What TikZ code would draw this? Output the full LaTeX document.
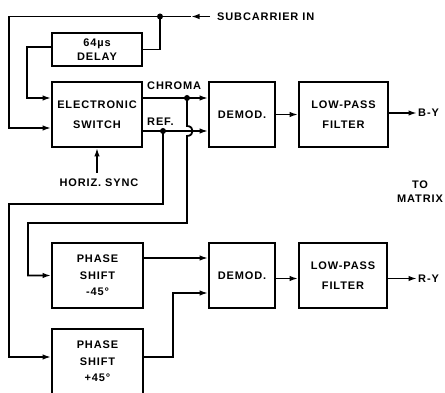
\documentclass[tikz,border=0pt]{standalone}
\usepackage{fontspec}
\setmainfont[LetterSpace=8]{Liberation Sans}
\usetikzlibrary{arrows.meta}
\tikzset{
  lbl/.style={font=\bfseries\fontsize{11}{13.5}\selectfont, inner sep=1pt, align=center},
  blk/.style={lbl, draw, rectangle, line width=1.8pt, inner sep=0pt},
  wire/.style={line width=1.8pt},
  arr/.style={wire, -{Latex[length=8.5pt,width=5.5pt]}},
  dot/.style={fill=black}
}
\begin{document}
\begin{tikzpicture}[x=1pt,y=-1pt]
\useasboundingbox (0,0) rectangle (445,393);
\clip (0,0) rectangle (445,393);
% blocks
\node[blk, minimum width=90pt, minimum height=33pt] (delay) at (97,49.5) {64µs\\DELAY};
\node[blk, minimum width=90pt, minimum height=65pt] (switch) at (97,114.5) {ELECTRONIC\\[7pt]SWITCH};
\node[blk, minimum width=66pt, minimum height=65pt] (demodA) at (242,114.5) {DEMOD.};
\node[blk, minimum width=89pt, minimum height=65pt] (lpfA) at (343.5,114.5) {LOW-PASS\\[7pt]FILTER};
\node[blk, minimum width=91pt, minimum height=65pt] (psA) at (97.5,275.5) {PHASE\\[3pt]SHIFT\\[3pt]-45°};
\node[blk, minimum width=91pt, minimum height=65pt] (psB) at (97.5,361.5) {PHASE\\[3pt]SHIFT\\[3pt]+45°};
\node[blk, minimum width=66pt, minimum height=65pt] (demodB) at (242,275.5) {DEMOD.};
\node[blk, minimum width=88pt, minimum height=65pt] (lpfB) at (343,275.5) {LOW-PASS\\[7pt]FILTER};
% labels
\node[lbl, anchor=west] (subin) at (216,16.5) {SUBCARRIER IN};
\node[lbl, anchor=west] (chroma) at (146,86) {CHROMA};
\node[lbl, anchor=west] (ref) at (146,121.5) {REF.};
\node[lbl] (hsync) at (99,183) {HORIZ. SYNC};
\node[lbl, anchor=west, inner sep=1pt] (by) at (417,113) {B-Y};
\node[lbl, anchor=west, inner sep=1pt] (ry) at (417,278.5) {R-Y};
\node[lbl] (tomatrix) at (420,191.5) {TO\\MATRIX};
% junction coordinates
\coordinate (dsub) at (160,16.5);
\coordinate (subtip) at (191,16.5);
\coordinate (dch) at (187,98);
\coordinate (dref) at (163,131);
% subcarrier input
\draw[arr] ([xshift=-6pt]subin.west) -- (subtip);
\draw[wire] (subtip) -- (dsub);
\draw[arr] (dsub) -- (9,16.5) |- ([yshift=-13.5pt]switch.west);
\draw[wire] (dsub) |- (delay.east);
\draw[arr] ([yshift=2.5pt]delay.west) -- (27,47) |- ([yshift=16.5pt]switch.west);
% horiz sync
\draw[arr] (97,173) -- (switch.south);
% switch outputs
\draw[arr] ([yshift=16.5pt]switch.east) -- ([yshift=16.5pt]demodA.west);
\draw[arr] ([yshift=-16.5pt]switch.east) -- ([yshift=-16.5pt]demodA.west);
\draw[arr] (demodA.east) -- (lpfA.west);
\draw[arr] ([yshift=1.5pt]lpfA.east) -- (by.west);
% chroma to phase shift -45 (hops over REF)
\draw[arr] (dch) -- (187,126) .. controls (194.5,126) and (194.5,136) .. (187,136) -- (187,223) -- (28,223) |- (psA.west);
% ref to phase shift +45
\draw[arr] (dref) -- (163,204) -- (9,204) |- ([yshift=4.5pt]psB.west);
% lower chain
\draw[arr] ([yshift=17.5pt]psA.east) -- ([yshift=17.5pt]demodB.west);
\draw[arr] ([yshift=4.5pt]psB.east) -- (173,357) |- ([yshift=-17.5pt]demodB.west);
\draw[arr] ([yshift=-3pt]demodB.east) -- ([yshift=-3pt]lpfB.west);
\draw[arr] ([yshift=-3pt]lpfB.east) -- (ry.west);
% dots
\fill[dot] (dsub) circle[radius=3pt];
\fill[dot] (dch) circle[radius=3pt];
\fill[dot] (dref) circle[radius=3pt];
\end{tikzpicture}
\end{document}
